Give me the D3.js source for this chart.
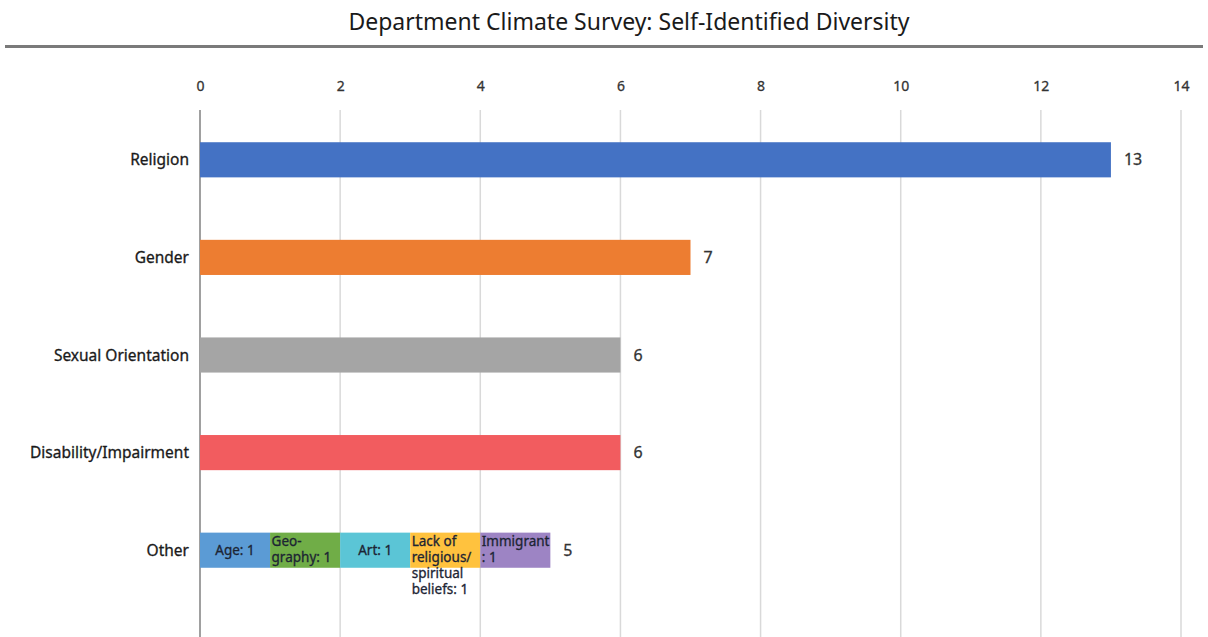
<!DOCTYPE html>
<html>
<head>
<meta charset="utf-8">
<script src="https://cdn.jsdelivr.net/npm/d3@7"></script>
<style>
  html, body { margin: 0; padding: 0; background: #fff; }
  svg { display: block; font-family: "Noto Sans", "Open Sans", sans-serif; }
  .heavy { stroke: currentColor; stroke-width: 0.3px; paint-order: stroke; }
</style>
</head>
<body>
<svg id="chart" width="1208" height="637"></svg>
<script>
// Survey counts per self-identified diversity category
const categories = ["Religion", "Gender", "Sexual Orientation", "Disability/Impairment", "Other"];
const counts = [13, 7, 6, 6, 5];
const barColors = ["#4472C4", "#ED7D31", "#A5A5A5", "#F25C5F", null];

// Breakdown of the "Other" responses
const otherLabels = [["Age: 1"], ["Geo-", "graphy: 1"], ["Art: 1"], ["Lack of", "religious/", "spiritual", "beliefs: 1"], ["Immigrant", ": 1"]];
const otherValues = [1, 1, 1, 1, 1];
const otherColors = ["#5B9BD5", "#70AD47", "#5BC5D6", "#FFC23E", "#9D84C4"];
const otherAlign = ["middle", "start", "middle", "start", "start"];

const tickValues = [0, 2, 4, 6, 8, 10, 12, 14];

const svg = d3.select("#chart");
const W = 1208, H = 637;

// Title and the rule beneath it
svg.append("text")
  .attr("x", 629).attr("y", 30)
  .attr("text-anchor", "middle")
  .attr("font-size", 23)
  .attr("fill", "#1a1a1a")
  .text("Department Climate Survey: Self-Identified Diversity");

svg.append("line")
  .attr("x1", 5).attr("x2", 1203)
  .attr("y1", 46.5).attr("y2", 46.5)
  .attr("stroke", "#7a7a7a").attr("stroke-width", 3);

const x = d3.scaleLinear().domain([0, 14]).range([200, 1181]);
const y = d3.scaleBand().domain(categories).range([111, 599]).paddingInner(0.64).paddingOuter(0.32);

// Vertical gridlines
svg.append("g").selectAll("line")
  .data(tickValues.filter(d => d > 0))
  .join("line")
  .attr("x1", d => x(d)).attr("x2", d => x(d))
  .attr("y1", 110).attr("y2", H)
  .attr("stroke", "#d9d9d9").attr("stroke-width", 1.5);

// Top axis labels
const axis = svg.append("g")
  .attr("transform", "translate(0,91)")
  .call(d3.axisTop(x).tickValues(tickValues).tickSize(0).tickPadding(0));
axis.select(".domain").remove();
axis.selectAll("text")
  .attr("class", "heavy")
  .attr("font-family", "Noto Sans, sans-serif")
  .attr("font-size", 14)
  .attr("fill", "#333")
  .style("color", "#333");

// Category axis line
svg.append("line")
  .attr("x1", x(0)).attr("x2", x(0))
  .attr("y1", 110).attr("y2", H)
  .attr("stroke", "#a0a0a0").attr("stroke-width", 2);

// Single-colour bars
const rows = categories.map((c, i) => ({ cat: c, value: counts[i], color: barColors[i] }));
svg.append("g").selectAll("rect")
  .data(rows.filter(d => d.color))
  .join("rect")
  .attr("x", x(0))
  .attr("y", d => y(d.cat))
  .attr("width", d => x(d.value) - x(0))
  .attr("height", y.bandwidth())
  .attr("fill", d => d.color);

// Stacked breakdown for "Other"
let acc = 0;
const segs = otherValues.map((v, i) => {
  const s = { x0: acc, x1: acc + v, color: otherColors[i], lines: otherLabels[i], align: otherAlign[i] };
  acc += v;
  return s;
});
const yo = y("Other");
const segG = svg.append("g");
segG.selectAll("rect")
  .data(segs)
  .join("rect")
  .attr("x", d => x(d.x0))
  .attr("y", yo)
  .attr("width", d => x(d.x1) - x(d.x0))
  .attr("height", y.bandwidth())
  .attr("fill", d => d.color);

segs.forEach(s => {
  const n = s.lines.length;
  const lh = 16;
  const tx = s.align === "middle" ? (x(s.x0) + x(s.x1)) / 2 : x(s.x0) + 1.5;
  const firstY = n === 1 ? yo + y.bandwidth() / 2 + 5 : yo + 13.5;
  const t = segG.append("text")
    .attr("class", "heavy")
    .attr("text-anchor", s.align)
    .attr("font-size", 13.5)
    .attr("fill", "#1c2433")
    .style("color", "#1c2433");
  s.lines.forEach((ln, k) => {
    t.append("tspan").attr("x", tx).attr("y", firstY + k * lh).text(ln);
  });
});

// Value labels at bar ends
svg.append("g").selectAll("text")
  .data(rows)
  .join("text")
  .attr("class", "heavy")
  .attr("x", d => x(d.value) + 13)
  .attr("y", d => y(d.cat) + y.bandwidth() / 2 + 5.5)
  .attr("font-size", 16)
  .attr("fill", "#333")
  .style("color", "#333")
  .text(d => d.value);

// Category labels
svg.append("g").selectAll("text")
  .data(categories)
  .join("text")
  .attr("class", "heavy")
  .attr("x", 189)
  .attr("y", d => y(d) + y.bandwidth() / 2 + 5.5)
  .attr("text-anchor", "end")
  .attr("font-size", 15.5)
  .attr("fill", "#1a1a1a")
  .style("color", "#1a1a1a")
  .text(d => d);
</script>
</body>
</html>
